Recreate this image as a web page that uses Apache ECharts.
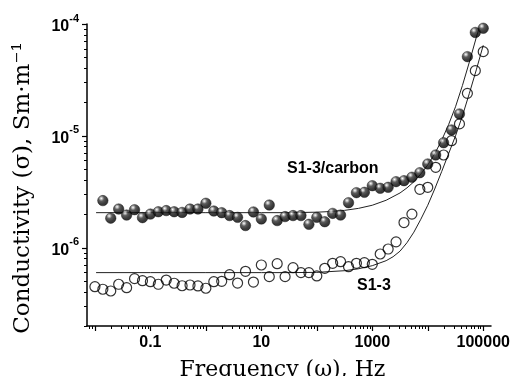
<!DOCTYPE html>
<html><head><meta charset="utf-8">
<script src="https://cdn.jsdelivr.net/npm/echarts@6/dist/echarts.min.js"></script>
<style>html,body{margin:0;padding:0;background:#fff}#c{width:512px;height:376px}</style>
</head><body><div id="c"></div>
<script>
// Frequencies (Hz), 7 points per decade
const freq = [0.01,0.0139,0.0193,0.0268,0.0373,0.0518,0.072,
  0.1,0.139,0.193,0.268,0.373,0.518,0.72,
  1,1.39,1.93,2.68,3.73,5.18,7.2,
  10,13.9,19.3,26.8,37.3,51.8,72,
  100,139,193,268,373,518,720,
  1000,1389,1931,2683,3728,5179,7197,
  10000,13895,19307,26827,37276,51795,71969,
  100000];
// S1-3/carbon (filled symbols), conductivity S/m
const carbon = [null,2.64e-6,1.84e-6,2.22e-6,1.96e-6,2.19e-6,1.86e-6,2.00e-6,2.10e-6,2.15e-6,
  2.10e-6,2.07e-6,2.22e-6,2.22e-6,2.50e-6,2.13e-6,2.06e-6,1.94e-6,1.87e-6,1.58e-6,
  2.09e-6,1.81e-6,2.41e-6,1.75e-6,1.90e-6,1.94e-6,1.94e-6,1.62e-6,1.87e-6,1.71e-6,
  2.03e-6,1.96e-6,2.53e-6,3.11e-6,3.13e-6,3.59e-6,3.40e-6,3.47e-6,3.90e-6,3.98e-6,
  4.27e-6,4.69e-6,5.61e-6,6.75e-6,8.69e-6,1.13e-5,1.57e-5,5.11e-5,8.40e-5,9.16e-5];
// S1-3 (open symbols)
const s13 = [4.49e-7,4.26e-7,4.11e-7,4.72e-7,4.40e-7,5.30e-7,5.08e-7,4.98e-7,4.72e-7,5.15e-7,
  4.82e-7,4.58e-7,4.65e-7,4.56e-7,4.35e-7,4.98e-7,5.02e-7,5.75e-7,4.84e-7,6.16e-7,
  4.94e-7,7.02e-7,5.52e-7,7.21e-7,5.52e-7,6.64e-7,6.00e-7,6.00e-7,5.60e-7,6.56e-7,
  7.27e-7,7.51e-7,6.78e-7,7.27e-7,7.36e-7,7.12e-7,8.80e-7,9.75e-7,1.13e-6,1.68e-6,
  2.00e-6,3.33e-6,3.47e-6,5.24e-6,6.75e-6,9.06e-6,1.28e-5,2.40e-5,3.83e-5,5.66e-5];
// Fit curves
const fitCarbonFreq = [0.0105,0.1,1,10,31.6,100,178,316,562,1000,1778,3162,4217,5623,7499,10000,13335,17783,23714,31623,42170,56234,74989,84140];
const fitCarbon = [2.06e-6,2.06e-6,2.06e-6,2.06e-6,2.06e-6,2.08e-6,2.11e-6,2.16e-6,2.25e-6,2.40e-6,2.66e-6,3.09e-6,3.43e-6,3.89e-6,4.57e-6,5.50e-6,6.92e-6,9.12e-6,1.26e-5,1.82e-5,2.82e-5,4.57e-5,7.59e-5,9.23e-5];
const fitS13Freq = [0.0105,0.1,1,10,31.6,100,316,562,1000,1778,2371,3162,4217,5623,7499,10000,13335,17783,23714,31623,42170,56234,74989,100000];
const fitS13 = [6.00e-7,6.00e-7,6.00e-7,6.00e-7,6.00e-7,6.03e-7,6.24e-7,6.49e-7,6.92e-7,7.67e-7,8.32e-7,9.33e-7,1.11e-6,1.38e-6,1.80e-6,2.40e-6,3.35e-6,4.79e-6,6.92e-6,1.00e-5,1.51e-5,2.40e-5,3.89e-5,6.46e-5];
// Axis ticks
const xLabelValues = [0.1, 10, 1000, 100000];
const xMajorTicks = [0.01,0.1,1,10,100,1000,10000,100000];
const yLabelValues = [1e-6, 1e-5, 1e-4];
const yMajorTicks = [1e-6, 1e-5, 1e-4];
const xDecades = [0.001,0.01,0.1,1,10,100,1000,10000,100000];
const yDecades = [1e-7,1e-6,1e-5];
const minorMult = [2,3,4,5,6,7,8,9];

const X_MIN = 0.0072, X_MAX = 138000, Y_MIN = 2e-7, Y_MAX = 1e-4;
function minorTicks(decades, lo, hi) {
  const out = [];
  decades.forEach(d => minorMult.forEach(m => { const v = +(d*m).toPrecision(3); if (v > lo && v < hi) out.push(v); }));
  return out;
}
const xMinor = minorTicks(xDecades, X_MIN, X_MAX);
const yMinor = minorTicks(yDecades, Y_MIN * 0.99, Y_MAX);

function pairs(xs, ys) { const r = []; xs.forEach((x, i) => { if (ys[i] != null) r.push([x, ys[i]]); }); return r; }

const sans = 'Liberation Sans';
const serif = 'DejaVu Serif';
const chart = echarts.init(document.getElementById('c'), null, {renderer: 'canvas'});
const sphere = {type:'radial', x:0.36, y:0.3, r:0.72, colorStops:[
  {offset:0, color:'#ffffff'}, {offset:0.12, color:'#bbbbbb'}, {offset:0.35, color:'#333333'}, {offset:0.7, color:'#0a0a0a'}, {offset:1, color:'#000'}]};

chart.setOption({
  animation: false,
  backgroundColor: '#fff',
  grid: {left: 87, right: 21, top: 24, bottom: 50, containLabel: false, outerBoundsMode: 'none'},
  xAxis: [{
    type: 'log', logBase: 10, min: X_MIN, max: X_MAX, position: 'bottom',
    axisLine: {show: true, lineStyle: {color: '#000', width: 1.5}},
    axisTick: {show: true, length: 5, customValues: xMajorTicks, lineStyle: {color: '#000', width: 1.2}},
    axisLabel: {show: true, customValues: xLabelValues, margin: 9, color: '#000', fontFamily: sans, fontWeight: 'bold', fontSize: 16,
      formatter: v => String(v)},
    splitLine: {show: false}, minorTick: {show: false},
    name: 'Frequency (ω), Hz', nameLocation: 'middle', nameGap: 33,
    nameTextStyle: {fontFamily: serif, fontSize: 22, color: '#000', padding: [0, 13, 0, 0]}
  }, {
    type: 'log', logBase: 10, min: X_MIN, max: X_MAX, position: 'bottom',
    axisLine: {show: false},
    axisTick: {show: true, length: 3, customValues: xMinor, lineStyle: {color: '#000', width: 1}},
    axisLabel: {show: false}, splitLine: {show: false}
  }],
  yAxis: [{
    type: 'log', logBase: 10, min: Y_MIN, max: Y_MAX, position: 'left',
    axisLine: {show: true, lineStyle: {color: '#000', width: 1.5}},
    axisTick: {show: true, length: 5, customValues: yMajorTicks, lineStyle: {color: '#000', width: 1.2}},
    axisLabel: {show: true, customValues: yLabelValues, margin: 8, color: '#000',
      formatter: v => '{b|10}{s|' + Math.round(Math.log10(v)) + '}',
      rich: {
        b: {fontFamily: sans, fontWeight: 'bold', fontSize: 16, color: '#000', padding: [6, 0, 0, 0]},
        s: {fontFamily: sans, fontWeight: 'bold', fontSize: 11, color: '#000', verticalAlign: 'top'}
      }},
    splitLine: {show: false}, minorTick: {show: false},
    name: 'Conductivity (σ), Sm·m⁻¹', nameLocation: 'middle', nameGap: 52,
    nameTextStyle: {fontFamily: serif, fontSize: 23, color: '#000', padding: [0, 26, 0, 0]}
  }, {
    type: 'log', logBase: 10, min: Y_MIN, max: Y_MAX, position: 'left',
    axisLine: {show: false},
    axisTick: {show: true, length: 3, customValues: yMinor, lineStyle: {color: '#000', width: 1}},
    axisLabel: {show: false}, splitLine: {show: false}
  }],
  series: [
    {type: 'line', name: 'fit carbon', data: pairs(fitCarbonFreq, fitCarbon), xAxisIndex: 0, yAxisIndex: 0,
      showSymbol: false, smooth: false, lineStyle: {color: '#222', width: 1}, z: 2},
    {type: 'line', name: 'fit S1-3', data: pairs(fitS13Freq, fitS13), xAxisIndex: 0, yAxisIndex: 0,
      showSymbol: false, smooth: false, lineStyle: {color: '#222', width: 1}, z: 2},
    {type: 'scatter', name: 'S1-3', data: pairs(freq, s13), symbol: 'circle', symbolSize: 10,
      itemStyle: {color: 'rgba(255,255,255,0)', borderColor: '#000', borderWidth: 1.2}, z: 3},
    {type: 'scatter', name: 'S1-3/carbon', data: pairs(freq, carbon), symbol: 'circle', symbolSize: 10.5,
      itemStyle: {color: sphere, borderColor: '#000', borderWidth: 0.5}, z: 4}
  ],
  graphic: [
    {type: 'text', left: 287, top: 161, style: {text: 'S1-3/carbon', fill: '#000', font: 'bold 16px "Liberation Sans"'}},
    {type: 'text', left: 357, top: 278, style: {text: 'S1-3', fill: '#000', font: 'bold 16px "Liberation Sans"'}}
  ]
});
</script></body></html>
